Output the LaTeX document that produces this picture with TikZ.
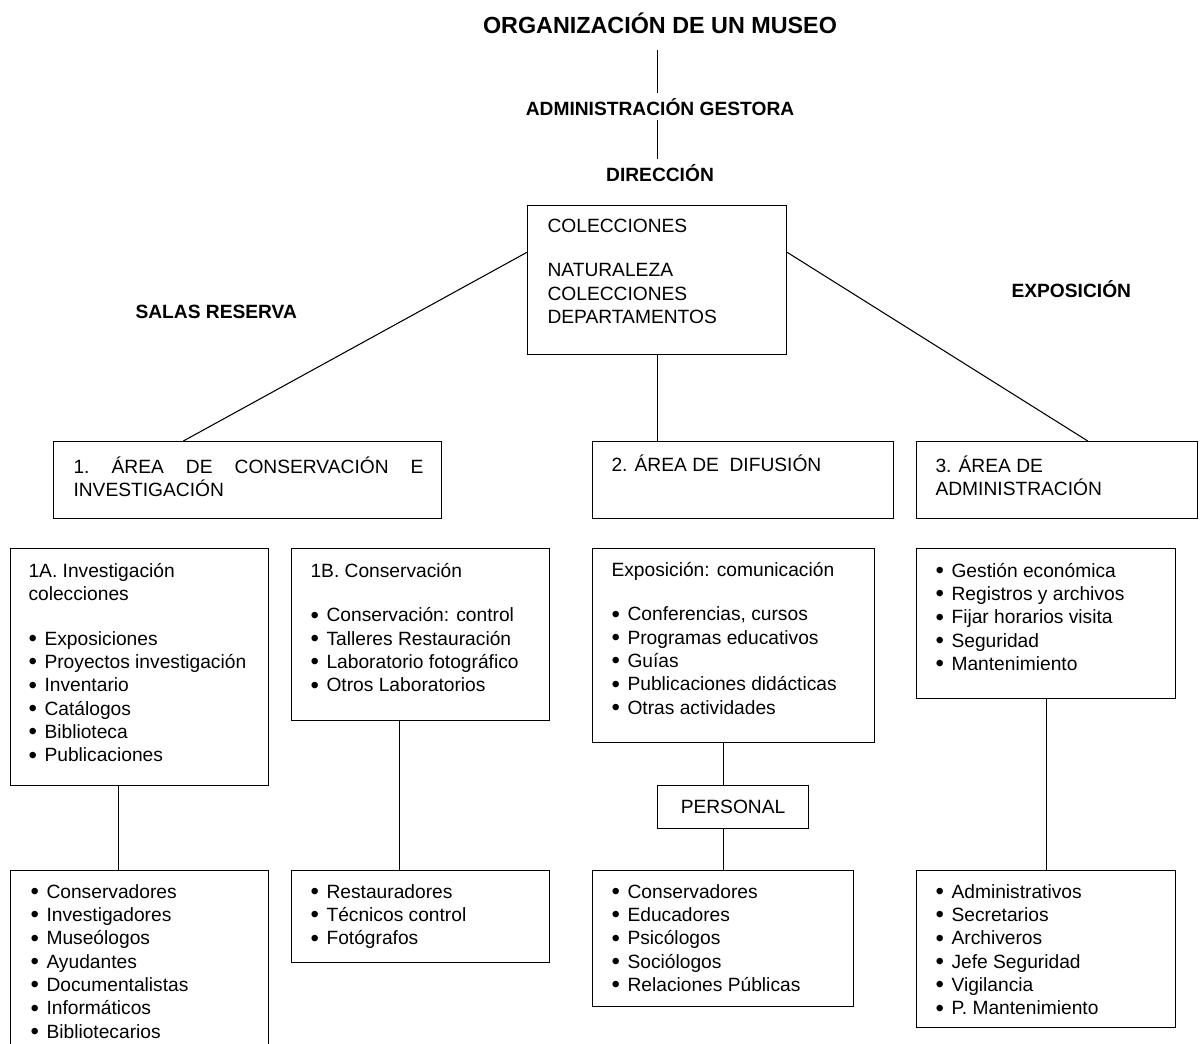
\documentclass[tikz,border=0pt]{standalone}
\usepackage{fontspec}
\setmainfont{Liberation Sans}
\usetikzlibrary{calc}
\tikzset{font=\fontsize{14.4}{17.5}\selectfont,
  panel/.style 2 args={draw,anchor=north west,inner sep=0pt,minimum width=#1*0.75pt,minimum height=#2*0.75pt},
  txt/.style={anchor=base west,inner sep=0pt},
  head/.style={font=\fontsize{14.4}{17.5}\selectfont\bfseries,inner sep=3pt}}
\newcommand{\itm}[1]{\makebox[12pt][l]{\raisebox{-0.08em}{\scalebox{1.25}{\textbullet}}}#1}
\newcommand{\lns}[1]{\parbox[t]{300pt}{#1}}

\begin{document}
\begin{tikzpicture}[x=0.75pt,y=-0.75pt,line width=0.8pt]
\fill[white] (0,0) rectangle (1201,1043);
\useasboundingbox (0,0) rectangle (1201,1043);
\node[head,font=\fontsize{17.5}{21}\selectfont\bfseries,anchor=base] (org) at (660,33) {ORGANIZACIÓN DE UN MUSEO};
\node[head,anchor=base] (gest) at (660,115) {ADMINISTRACIÓN GESTORA};
\node[head,anchor=base] (dir) at (660,181) {DIRECCIÓN};
\node[head,anchor=base west] (salas) at (131,318) {SALAS RESERVA};
\node[head,anchor=base west] (expo) at (1007,297) {EXPOSICIÓN};

\node[panel={259}{149}] (main) at (527,205) {};
\node[panel={388}{77}] (a1) at (53,441) {};
\node[panel={301}{77}] (a2) at (592,441) {};
\node[panel={281}{77}] (a3) at (916,441) {};
\node[panel={258}{237}] (s1a) at (10,548) {};
\node[panel={258}{172}] (s1b) at (291,548) {};
\node[panel={282}{194}] (s2) at (592,548) {};
\node[panel={259}{150}] (s3) at (916,548) {};
\node[panel={151}{43}] (pers) at (657,785) {PERSONAL};
\node[panel={258}{200}] (p1) at (10,870) {};
\node[panel={258}{92}] (p1b) at (291,870) {};
\node[panel={261}{136}] (p2) at (592,870) {};
\node[panel={259}{157}] (p3) at (916,870) {};

\node[txt] (tmain) at (547,232) {\lns{COLECCIONES\\[16pt]NATURALEZA\\COLECCIONES\\DEPARTAMENTOS}};
\node[txt] (ta1) at (73,473) {\lns{\makebox[262.5pt][s]{1.\ ÁREA DE CONSERVACIÓN E}\\INVESTIGACIÓN}};
\node[txt] (ta2) at (611,471) {2. ÁREA DE\ \ DIFUSIÓN};
\node[txt] (ta3) at (935,472) {\lns{3. ÁREA DE\\ADMINISTRACIÓN}};
\node[txt] (ts1a) at (28,577) {\lns{1A. Investigación\\colecciones\\[16pt]\itm{Exposiciones}\\\itm{Proyectos investigación}\\\itm{Inventario}\\\itm{Catálogos}\\\itm{Biblioteca}\\\itm{Publicaciones}}};
\node[txt] (ts1b) at (310,577) {\lns{1B. Conservación\\[16pt]\itm{Conservación: control}\\\itm{Talleres Restauración}\\\itm{Laboratorio fotográfico}\\\itm{Otros Laboratorios}}};
\node[txt] (ts2) at (611,576) {\lns{Exposición: comunicación\\[16pt]\itm{Conferencias, cursos}\\\itm{Programas educativos}\\\itm{Guías}\\\itm{Publicaciones didácticas}\\\itm{Otras actividades}}};
\node[txt] (ts3) at (935,577) {\lns{\itm{Gestión económica}\\\itm{Registros y archivos}\\\itm{Fijar horarios visita}\\\itm{Seguridad}\\\itm{Mantenimiento}}};
\node[txt] (tp1) at (30,898) {\lns{\itm{Conservadores}\\\itm{Investigadores}\\\itm{Museólogos}\\\itm{Ayudantes}\\\itm{Documentalistas}\\\itm{Informáticos}\\\itm{Bibliotecarios}}};
\node[txt] (tp1b) at (310,898) {\lns{\itm{Restauradores}\\\itm{Técnicos control}\\\itm{Fotógrafos}}};
\node[txt] (tp2) at (611,898) {\lns{\itm{Conservadores}\\\itm{Educadores}\\\itm{Psicólogos}\\\itm{Sociólogos}\\\itm{Relaciones Públicas}}};
\node[txt] (tp3) at (935,898) {\lns{\itm{Administrativos}\\\itm{Secretarios}\\\itm{Archiveros}\\\itm{Jefe Seguridad}\\\itm{Vigilancia}\\\itm{P. Mantenimiento}}};

\path (main.north |- org.south) edge[shorten <=9pt] (main.north |- gest.north);
\path (main.north |- gest.south) edge (main.north |- dir.north);
\path ($(main.north west)!.315!(main.south west)$) edge ($(a1.north west)!.335!(a1.north east)$);
\path ($(main.north east)!.315!(main.south east)$) edge ($(a3.north west)!.609!(a3.north east)$);
\path (main.south) edge (main.south |- a2.north);
\path ($(s1a.south west)!.42!(s1a.south east)$) edge ($(p1.north west)!.42!(p1.north east)$);
\path ($(s1b.south west)!.42!(s1b.south east)$) edge ($(p1b.north west)!.42!(p1b.north east)$);
\path (p2.north |- s2.south) edge (p2.north |- pers.north);
\path (p2.north |- pers.south) edge (p2.north);
\path (s3.south) edge (p3.north);
\end{tikzpicture}
\end{document}
